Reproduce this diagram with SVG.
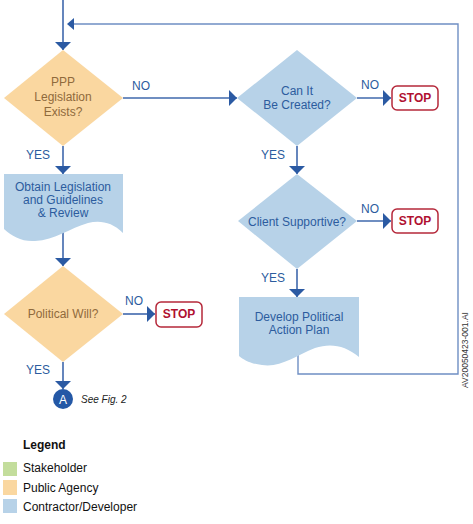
<svg xmlns="http://www.w3.org/2000/svg" width="473" height="524" viewBox="0 0 473 524">
<style>
text{font-family:"Liberation Sans",Arial,sans-serif;font-size:12px}
.pa{fill:#FAD7A0}
.cd{fill:#B7D2E8}
.tpa{fill:#8F6A3C;text-anchor:middle}
.tcd{fill:#2C5C9E;text-anchor:middle}
.lbl{fill:#2C5C9E;text-anchor:middle}
.stopbox{fill:#fff;stroke:#B5283A;stroke-width:1.5}
.stop{fill:#B01030;font-weight:bold;text-anchor:middle}
.con{fill:none;stroke:#3F68AC;stroke-width:1.6;marker-end:url(#ah)}
.fb{fill:none;stroke:#6F8FC4;stroke-width:1.4}
.leg{fill:#111}
</style>
<defs>
<marker id="ah" markerUnits="userSpaceOnUse" markerWidth="8" markerHeight="16" refX="8" refY="8" orient="auto">
<path d="M0,0 L8,8 L0,16 Z" fill="#2B5AA3"/>
</marker>
</defs>
<rect width="473" height="524" fill="#fff"/>
<g id="connectors">
<path class="con" d="M63,0 V50"/>
<path class="fb" d="M298,355 V374 H458 V24 H74"/>
<path d="M67,24 L74,18 L74,30 Z" fill="#2B5AA3"/>
<path class="con" d="M123,98 H237"/>
<path class="con" d="M357,98 H391"/>
<path class="con" d="M297,146 V174"/>
<path class="con" d="M357,221 H391"/>
<path class="con" d="M297,269 V297"/>
<path class="con" d="M63,146 V174"/>
<path class="con" d="M63,232 V266"/>
<path class="con" d="M123,314 H155"/>
<path class="con" d="M63,362 V389"/>
<text class="lbl" x="141" y="90">NO</text>
<text class="lbl" x="370" y="89">NO</text>
<text class="lbl" x="370" y="213">NO</text>
<text class="lbl" x="134" y="305">NO</text>
<text class="lbl" x="38" y="159">YES</text>
<text class="lbl" x="273" y="159">YES</text>
<text class="lbl" x="273" y="282">YES</text>
<text class="lbl" x="38" y="374">YES</text>
</g>
<g id="d1">
<path class="pa" d="M63,50 L123,98 L63,146 L4,98 Z"/>
<text class="tpa" x="63" y="86">PPP</text>
<text class="tpa" x="63" y="101">Legislation</text>
<text class="tpa" x="63" y="116">Exists?</text>
</g>
<g id="d2">
<path class="cd" d="M297,50 L357,98 L297,146 L237,98 Z"/>
<text class="tcd" x="297" y="95">Can It</text>
<text class="tcd" x="297" y="109">Be Created?</text>
</g>
<g id="stop1">
<rect class="stopbox" x="392" y="86" width="46" height="24" rx="5"/>
<text class="stop" x="415" y="102">STOP</text>
</g>
<g id="d3">
<path class="cd" d="M297,174 L357,221 L297,269 L238,221 Z"/>
<text class="tcd" x="297" y="226">Client Supportive?</text>
</g>
<g id="stop2">
<rect class="stopbox" x="392" y="209" width="46" height="24" rx="5"/>
<text class="stop" x="415" y="225">STOP</text>
</g>
<g id="doc2">
<path class="cd" d="M239,297 H359 V357 C345,345 330,343 315,348 C295,356 280,368 262,365 C251,364 244,360 239,356 Z"/>
<text class="tcd" x="299" y="321">Develop Political</text>
<text class="tcd" x="299" y="334">Action Plan</text>
</g>
<g id="doc1">
<path class="cd" d="M4,174 H123 V233 C112,222 100,220 88,223 C70,228 55,240 35,241 C22,242 12,236 4,229 Z"/>
<text class="tcd" x="63" y="191">Obtain Legislation</text>
<text class="tcd" x="63" y="204">and Guidelines</text>
<text class="tcd" x="63" y="217">&amp; Review</text>
</g>
<g id="d4">
<path class="pa" d="M63,266 L123,314 L63,362 L4,314 Z"/>
<text class="tpa" x="63" y="318">Political Will?</text>
</g>
<g id="stop3">
<rect class="stopbox" x="156" y="302" width="46" height="25" rx="5"/>
<text class="stop" x="179" y="318">STOP</text>
</g>
<g id="connA">
<circle cx="63" cy="399" r="10" fill="#2458A6"/>
<text x="63" y="403.5" fill="#fff" text-anchor="middle">A</text>
<text x="81" y="403" fill="#222" style="font-size:10px;font-style:italic">See Fig. 2</text>
</g>
<g id="legend">
<text class="leg" x="23" y="449" style="font-weight:bold">Legend</text>
<rect x="3" y="462" width="14" height="14" fill="#C3DD9C"/>
<text class="leg" x="23" y="472">Stakeholder</text>
<rect x="3" y="480" width="14" height="15" fill="#FAD7A0"/>
<text class="leg" x="23" y="492">Public Agency</text>
<rect x="3" y="499" width="14" height="14" fill="#B7D2E8"/>
<text class="leg" x="23" y="511">Contractor/Developer</text>
</g>
<text x="0" y="0" transform="translate(468,388) rotate(-90)" fill="#333" style="font-size:8.5px">AV20050423-001.AI</text>
</svg>
